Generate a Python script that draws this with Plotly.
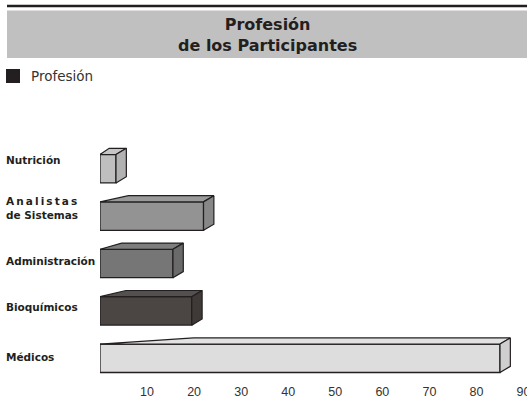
import plotly.graph_objects as go

# ---- data ----
categories = ["Médicos", "Bioquímicos", "Administración", "Analistas de Sistemas", "Nutrición"]
label_texts = ["Médicos", "Bioquímicos", "Administración",
               "A\u2009n\u2009a\u2009l\u2009i\u2009s\u2009t\u2009a\u2009s<br>de Sistemas", "Nutrición"]
values = [85, 19.5, 15.5, 22, 3.4]
front_colors = ["#dddddd", "#4b4644", "#767676", "#939393", "#bfbfbf"]
top_colors = ["#e2e2e2", "#555050", "#7e7e7e", "#9a9a9a", "#c6c6c6"]
side_colors = ["#cfcfcf", "#3f3a38", "#6a6a6a", "#878787", "#b2b2b2"]
tick_vals = [10, 20, 30, 40, 50, 60, 70, 80, 90]
label_shift = [1.5, 3.5, 2.5, 8, 9]

EDGE = "#231f20"
BW = 0.6       # bar thickness (category units)
DX = 2.2       # depth offset (x units)
DY = 0.13      # depth offset (category units)

pos = list(range(len(categories)))

fig = go.Figure()

# front faces
fig.add_trace(go.Bar(
    x=values, y=pos, orientation="h", width=BW,
    marker=dict(color=front_colors, line=dict(color=EDGE, width=1.3)),
    showlegend=False, hoverinfo="skip"))

# top and side faces (3D effect)
for i, v in enumerate(values):
    yt = pos[i] + BW / 2
    yb = pos[i] - BW / 2
    xbl = 0.22 * v + 1.2
    fig.add_trace(go.Scatter(
        x=[0, xbl, v + DX, v, 0], y=[yt, yt + DY, yt + DY, yt, yt],
        mode="lines", fill="toself", fillcolor=top_colors[i],
        line=dict(color=EDGE, width=1.2), showlegend=False, hoverinfo="skip"))
    fig.add_trace(go.Scatter(
        x=[v, v + DX, v + DX, v, v], y=[yt, yt + DY, yb + DY, yb, yt],
        mode="lines", fill="toself", fillcolor=side_colors[i],
        line=dict(color=EDGE, width=1.2), showlegend=False, hoverinfo="skip"))

FONT = "Liberation Sans, Arial, sans-serif"
WIDE = "DejaVu Sans, Verdana, sans-serif"

# category labels
annotations = []
for i, t in enumerate(label_texts):
    annotations.append(dict(
        xref="paper", yref="y", x=0, y=pos[i], xanchor="left", yanchor="middle",
        xshift=-96, yshift=label_shift[i], text="<b>" + t + "</b>", showarrow=False,
        align="left", font=dict(family=WIDE, size=10.5, color=EDGE)))

# title
annotations.append(dict(
    xref="paper", yref="paper", x=0.5, y=1, xanchor="center", yanchor="middle",
    xshift=(7 + 527) / 2 - (100 + 524) / 2, yshift=145 - 35,
    text="<b>Profesión<br>de los Participantes</b>", showarrow=False,
    font=dict(family=WIDE, size=16, color=EDGE)))

# legend text
annotations.append(dict(
    xref="paper", yref="paper", x=0, y=1, xanchor="left", yanchor="middle",
    xshift=31 - 100 - 2, yshift=145 - 76,
    text="Profesión", showarrow=False,
    font=dict(family=WIDE, size=13.5, color="#333333")))

fig.update_layout(
    width=527, height=399,
    margin=dict(l=100, r=3, t=145, b=17, autoexpand=False),
    paper_bgcolor="white", plot_bgcolor="white",
    font=dict(family=FONT, size=12, color="#333333"),
    xaxis=dict(range=[0, 90.1], tickvals=tick_vals, showgrid=False, zeroline=False,
               showline=False, ticks="", automargin=False, ticklabeloverflow="allow",
               tickfont=dict(family=FONT, size=12.5, color="#333333")),
    yaxis=dict(range=[-0.5, 4.5], showticklabels=False, showgrid=False,
               zeroline=False, showline=False, ticks="", automargin=False),
    annotations=annotations,
    shapes=[
        # title band
        dict(type="rect", xref="paper", yref="paper",
             x0=(7 - 100) / 424, x1=(527 - 100) / 424,
             y0=1 + (145 - 58) / 237, y1=1 + (145 - 10.5) / 237,
             fillcolor="#c0c0c0", line=dict(width=0), layer="below"),
        # top rule
        dict(type="line", xref="paper", yref="paper",
             x0=(7 - 100) / 424, x1=(527 - 100) / 424,
             y0=1 + (145 - 6) / 237, y1=1 + (145 - 6) / 237,
             line=dict(color=EDGE, width=2.5)),
        # legend swatch
        dict(type="rect", xref="paper", yref="paper",
             x0=(6 - 100) / 424, x1=(20 - 100) / 424,
             y0=1 + (145 - 83) / 237, y1=1 + (145 - 69) / 237,
             fillcolor=EDGE, line=dict(width=0)),
    ],
)

fig.write_html("out.html")
